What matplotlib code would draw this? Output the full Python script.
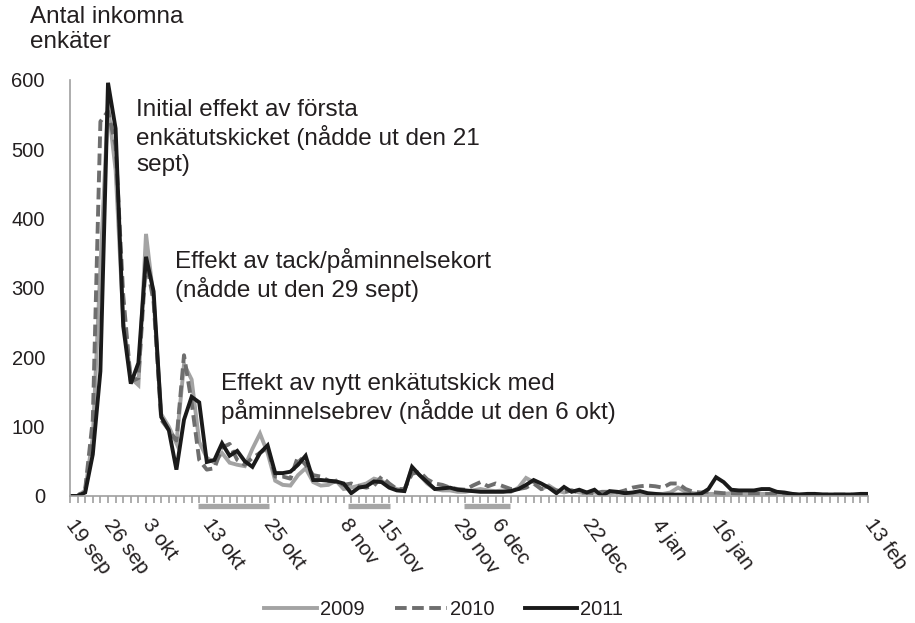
import matplotlib
matplotlib.use("Agg")
from matplotlib import pyplot as plt

plt.rcParams['font.family'] = ['Liberation Sans', 'DejaVu Sans']

# Vardagar 19 sep - 13 feb (index 0..105)
tick_pos = [0, 5, 10, 18, 26, 36, 41, 51, 56, 68, 77, 85, 105]
tick_labels = ['19 sep', '26 sep', '3 okt', '13 okt', '25 okt', '8 nov', '15 nov',
               '29 nov', '6 dec', '22 dec', '4 jan', '16 jan', '13 feb']

y2009 = [0, 0, 8, 85, 330, 565, 470, 255, 170, 160,
         378, 285, 118, 100, 76, 190, 168, 78, 55, 48,
         62, 48, 45, 43, 68, 90, 62, 22, 16, 15,
         30, 40, 20, 15, 16, 22, 10, 12, 15, 18,
         25, 22, 14, 10, 8, 40, 30, 18, 10, 8,
         8, 6, 6, 8, 10, 8, 7, 8, 6, 12,
         26, 20, 10, 15, 8, 5, 8, 5, 4, 5,
         3, 4, 5, 4, 3, 4, 3, 3, 3, 5,
         12, 6, 4, 3, 3, 3, 3, 4, 3, 3,
         3, 3, 3, 2, 2, 3, 2, 2, 3, 2,
         2, 2, 2, 2, 2, 2]

y2010 = [0, 0, 10, 110, 540, 555, 505, 290, 165, 170,
         340, 280, 110, 95, 80, 203, 135, 52, 38, 40,
         70, 75, 52, 45, 55, 62, 70, 28, 28, 25,
         57, 45, 30, 28, 22, 20, 16, 18, 14, 12,
         15, 28, 18, 10, 10, 32, 35, 24, 18, 16,
         12, 10, 9, 15, 20, 14, 18, 14, 10, 10,
         12, 18, 10, 12, 8, 6, 8, 5, 5, 4,
         6, 6, 5, 8, 12, 14, 15, 14, 12, 18,
         18, 10, 6, 5, 6, 5, 4, 4, 3, 3,
         3, 3, 3, 3, 3, 3, 2, 2, 2, 2,
         2, 2, 2, 2, 2, 2]

y2011 = [0, 0, 5, 60, 180, 596, 530, 245, 162, 192,
         345, 295, 114, 95, 38, 110, 143, 135, 49, 52,
         76, 58, 65, 50, 42, 62, 73, 33, 33, 35,
         45, 58, 23, 23, 22, 21, 18, 4, 12, 14,
         21, 20, 12, 8, 7, 42, 30, 20, 10, 11,
         12, 9, 8, 7, 6, 6, 6, 6, 7, 10,
         16, 23, 18, 12, 4, 13, 6, 9, 5, 9,
         0, 7, 6, 4, 5, 7, 4, 3, 2, 2,
         2, 2, 2, 3, 10, 27, 20, 9, 8, 8,
         8, 10, 10, 6, 5, 3, 2, 3, 3, 2,
         2, 2, 2, 2, 3, 3]

# Markerade perioder under x-axeln (index)
perioder = [(16.8, 26.2), (36.6, 42.1), (51.8, 57.9)]

textfarg = '#231f20'
axelfarg = '#a0a0a0'

fig = plt.figure(figsize=(9.15, 6.23), dpi=100)
ax = fig.add_axes([0.0765, 0.2039, 0.8722, 0.6677])

x = list(range(len(y2011)))
ax.plot(x, y2009, color='#a3a3a3', lw=2.8, label='2009', solid_joinstyle='miter')
ax.plot(x, y2010, color='#6e6e6e', lw=2.8, dashes=(3, 1.4), label='2010')
ax.plot(x, y2011, color='#1a1a1a', lw=2.8, label='2011', solid_joinstyle='miter')

ax.set_xlim(0, 105)
ax.set_ylim(0, 600)
ax.set_yticks([0, 100, 200, 300, 400, 500, 600])

for s in ['top', 'right']:
    ax.spines[s].set_visible(False)
ax.spines['left'].set_color(axelfarg)
ax.spines['bottom'].set_color(axelfarg)
ax.spines['left'].set_linewidth(1.2)
ax.spines['bottom'].set_linewidth(1.2)

ax.set_xticks(tick_pos)
ax.set_xticklabels(tick_labels)
ax.set_xticks(x, minor=True)
ax.tick_params(axis='x', which='both', length=5, width=1.2, color=axelfarg,
               labelsize=15, labelcolor=textfarg, pad=13)
ax.tick_params(axis='y', length=0, labelsize=14.5, labelcolor=textfarg, pad=18)
plt.setp(ax.get_xticklabels(), rotation=-54, ha='left', va='center',
         rotation_mode='anchor')

for a, b in perioder:
    ax.hlines(-0.023, a, b, transform=ax.get_xaxis_transform(), colors='#a6a6a6',
              lw=3.8, clip_on=False)

ax.text(8.7, 572, 'Initial effekt av första\nenkätutskicket (nådde ut den 21\nsept)',
        fontsize=17.5, color=textfarg, va='top', ha='left', linespacing=1.2)
ax.text(13.8, 357, 'Effekt av tack/påminnelsekort\n(nådde ut den 29 sept)',
        fontsize=17.5, color=textfarg, va='top', ha='left', linespacing=1.2)
ax.text(19.9, 177, 'Effekt av nytt enkätutskick med\npåminnelsebrev (nådde ut den 6 okt)',
        fontsize=17.5, color=textfarg, va='top', ha='left', linespacing=1.2)

fig.text(30 / 915, 1 - 6 / 623, 'Antal inkomna\nenkäter', fontsize=17.5,
         color=textfarg, va='top', ha='left', linespacing=1.2)

fig.legend(loc='center', bbox_to_anchor=(0.485, 0.021), ncol=3, frameon=False,
           fontsize=14.5, handlelength=2.6, handletextpad=0.15, columnspacing=1.5,
           labelcolor=textfarg)

fig.savefig('out.png', dpi=100)
